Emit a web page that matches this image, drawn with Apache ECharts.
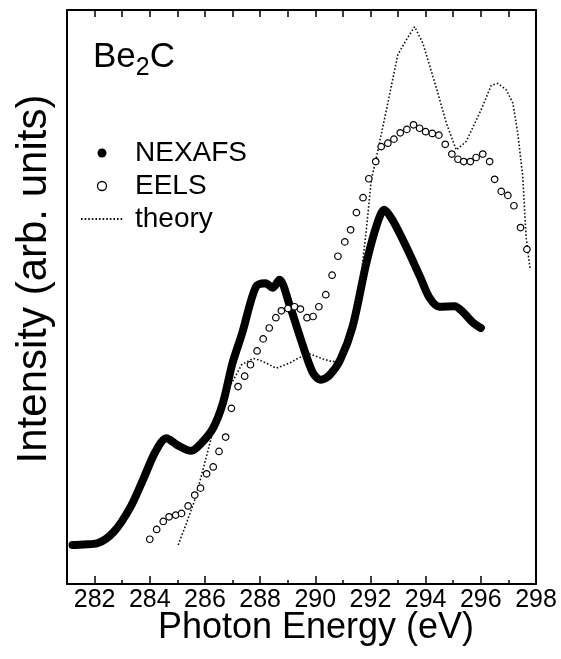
<!DOCTYPE html>
<html>
<head>
<meta charset="utf-8">
<script src="https://cdn.jsdelivr.net/npm/echarts@6/dist/echarts.min.js"></script>
<style>
  html, body { margin: 0; padding: 0; background: #fff; }
  #chart { width: 561px; height: 659px; }
</style>
</head>
<body>
<div id="chart"></div>
<script>
// Be2C carbon K-edge spectra: NEXAFS, EELS and calculated (theory)
const nexafsEnergy = [281.2, 281.6, 282.1, 282.7, 283.3, 283.75, 284.2, 284.6, 285.0, 285.5, 285.9, 286.3, 286.65, 287.0, 287.35, 287.85, 288.2, 288.45, 288.7, 289.05, 289.45, 289.9, 290.2, 290.5, 290.9, 291.35, 291.85, 292.25, 292.5, 292.8, 293.3, 293.8, 294.15, 294.5, 295.05, 295.35, 295.7, 296.0];
const nexafsIntensity = [6.8, 6.9, 7.1, 9.1, 13.4, 18.1, 23.0, 25.4, 24.2, 23.2, 24.7, 27.2, 31.5, 38.5, 43.7, 51.8, 52.4, 51.6, 53.0, 48.9, 43.0, 36.9, 35.6, 36.3, 39.0, 44.8, 55.9, 62.9, 65.2, 63.4, 58.7, 53.5, 49.8, 48.3, 48.4, 47.4, 45.6, 44.6];

const eelsEnergy = [284.0, 284.25, 284.49, 284.70, 284.94, 285.15, 285.39, 285.63, 285.84, 286.06, 286.30, 286.51, 286.75, 286.96, 287.20, 287.44, 287.65, 287.89, 288.11, 288.33, 288.57, 288.77, 289.01, 289.25, 289.46, 289.70, 289.92, 290.13, 290.38, 290.61, 290.82, 291.07, 291.28, 291.49, 291.73, 291.94, 292.19, 292.39, 292.63, 292.85, 293.08, 293.32, 293.56, 293.78, 294.00, 294.24, 294.48, 294.71, 294.95, 295.17, 295.38, 295.62, 295.83, 296.07, 296.32, 296.50, 296.74, 296.98, 297.20, 297.44, 297.67];
const eelsIntensity = [7.8, 9.5, 10.9, 11.7, 12.0, 12.3, 13.6, 15.5, 16.7, 19.2, 20.4, 23.1, 25.6, 30.6, 34.4, 36.2, 38.2, 40.6, 42.7, 44.6, 46.4, 47.6, 48.0, 48.3, 47.9, 46.4, 46.6, 48.3, 50.4, 53.8, 57.1, 59.6, 61.7, 64.7, 67.3, 70.6, 73.6, 76.2, 76.8, 77.5, 78.6, 79.2, 80.0, 79.4, 78.8, 78.5, 78.2, 76.6, 74.9, 74.0, 73.6, 73.6, 74.3, 74.9, 73.6, 70.5, 68.4, 67.7, 65.9, 62.1, 58.3];

const theoryEnergy = [285.03, 285.33, 285.63, 285.93, 286.24, 286.54, 286.90, 287.33, 287.51, 287.75, 287.99, 288.59, 289.07, 289.37, 289.74, 290.28, 290.64, 290.95, 291.25, 291.49, 291.67, 291.85, 292.03, 292.21, 292.63, 292.99, 293.30, 293.60, 293.90, 294.39, 294.75, 295.11, 295.47, 296.01, 296.38, 296.62, 296.92, 297.16, 297.34, 297.52, 297.64, 297.79];
const theoryIntensity = [6.8, 10.6, 14.6, 19.9, 25.7, 30.3, 34.4, 38.2, 38.7, 39.3, 39.0, 37.6, 38.5, 39.3, 40.2, 39.2, 38.7, 39.6, 43.1, 48.3, 54.1, 61.7, 70.4, 74.2, 83.8, 92.2, 94.8, 97.1, 94.2, 86.4, 80.3, 75.6, 77.1, 82.6, 86.9, 87.2, 86.1, 83.8, 78.5, 71.0, 60.5, 54.7];

const majorTicks = [282, 284, 286, 288, 290, 292, 294, 296, 298];
const minorTicks = [281, 283, 285, 287, 289, 291, 293, 295, 297];
const allTicks = majorTicks.concat(minorTicks).sort((a, b) => a - b);

const xMin = 281, xMax = 298;
const FONT = '"Liberation Sans", Arial, Helvetica, sans-serif';

const pairs = (xs, ys) => xs.map((x, i) => [x, ys[i]]);

const chart = echarts.init(document.getElementById('chart'), null, { renderer: 'canvas' });

const frameLine = { show: true, lineStyle: { color: '#000', width: 2 } };

chart.setOption({
  animation: false,
  backgroundColor: '#fff',
  grid: { left: 67, right: 25, top: 10, bottom: 75, containLabel: false },
  title: {
    text: 'Be{s|2}C',
    left: 88,
    top: 28,
    textStyle: {
      fontFamily: FONT, fontSize: 35, fontWeight: 'normal', color: '#000', lineHeight: 48,
      rich: {
        s: { fontFamily: FONT, fontSize: 25, color: '#000', lineHeight: 25, verticalAlign: 'bottom' }
      }
    }
  },
  legend: {
    orient: 'vertical',
    left: 75,
    top: 134,
    itemWidth: 42,
    itemHeight: 9,
    itemGap: 5,
    textStyle: { fontFamily: FONT, fontSize: 28, color: '#000', lineHeight: 28, padding: [0, 0, 0, 7] },
    data: [
      { name: 'NEXAFS', icon: 'circle', itemStyle: { color: '#000', borderWidth: 0 } },
      { name: 'EELS', icon: 'circle', itemStyle: { color: '#fff', borderColor: '#000', borderWidth: 1.3 } },
      { name: 'theory', itemStyle: { opacity: 0 } }
    ]
  },
  xAxis: [
    {
      type: 'value', position: 'bottom', min: xMin, max: xMax,
      axisLine: frameLine,
      splitLine: { show: false },
      axisTick: { show: true, inside: true, length: 8, customValues: majorTicks, lineStyle: { color: '#000', width: 1.5 } },
      axisLabel: { show: true, customValues: majorTicks, margin: 4, color: '#000', fontFamily: FONT, fontSize: 25 }
    },
    {
      type: 'value', position: 'bottom', min: xMin, max: xMax,
      axisLine: { show: false },
      splitLine: { show: false },
      axisTick: { show: true, inside: true, length: 4, customValues: minorTicks, lineStyle: { color: '#000', width: 1.5 } },
      axisLabel: { show: false }
    },
    {
      type: 'value', position: 'top', min: xMin, max: xMax,
      axisLine: frameLine,
      splitLine: { show: false },
      axisTick: { show: true, inside: true, length: 7, customValues: allTicks, lineStyle: { color: '#000', width: 1.5 } },
      axisLabel: { show: false }
    }
  ],
  yAxis: [
    {
      type: 'value', position: 'left', min: 0, max: 100,
      axisLine: frameLine, axisTick: { show: false }, axisLabel: { show: false }, splitLine: { show: false }
    },
    {
      type: 'value', position: 'right', min: 0, max: 100,
      axisLine: frameLine, axisTick: { show: false }, axisLabel: { show: false }, splitLine: { show: false }
    }
  ],
  graphic: [
    {
      type: 'text', x: 34, y: 279, rotation: Math.PI / 2,
      style: { text: 'Intensity (arb. units)', fontFamily: FONT, fontSize: 42, fill: '#000', align: 'center', verticalAlign: 'middle' }
    },
    {
      type: 'text', x: 316, y: 628,
      style: { text: 'Photon Energy (eV)', fontFamily: FONT, fontSize: 36, fill: '#000', align: 'center', verticalAlign: 'middle' }
    }
  ],
  series: [
    {
      name: 'NEXAFS', type: 'line', xAxisIndex: 0, yAxisIndex: 0,
      data: pairs(nexafsEnergy, nexafsIntensity),
      smooth: 0.3, showSymbol: false, symbol: 'none',
      lineStyle: { color: '#000', width: 8, cap: 'round', join: 'round' },
      itemStyle: { color: '#000' },
      z: 2
    },
    {
      name: 'theory', type: 'line', xAxisIndex: 0, yAxisIndex: 0,
      data: pairs(theoryEnergy, theoryIntensity),
      smooth: false, showSymbol: false, symbol: 'none',
      lineStyle: { color: '#111', width: 1.6, type: [1.6, 2] },
      itemStyle: { color: '#111' },
      z: 3
    },
    {
      name: 'EELS', type: 'scatter', xAxisIndex: 0, yAxisIndex: 0,
      data: pairs(eelsEnergy, eelsIntensity),
      symbol: 'circle', symbolSize: 6.5,
      itemStyle: { color: '#fff', borderColor: '#000', borderWidth: 1.2, opacity: 1 },
      z: 4
    }
  ]
});
</script>
</body>
</html>
